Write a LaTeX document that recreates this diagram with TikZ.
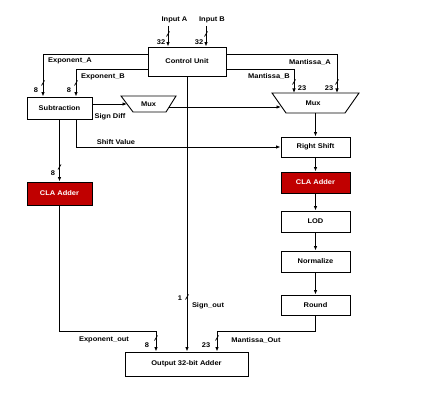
\documentclass[tikz,border=0pt]{standalone}
\usepackage{fontspec}
\setmainfont{Liberation Sans}[FakeStretch=1.1]
\usetikzlibrary{arrows.meta,calc}
\definecolor{clared}{RGB}{192,0,0}
\tikzset{
  lbl/.style={font=\fontsize{6.8}{7.8}\selectfont\bfseries, inner sep=0pt},
  blk/.style={lbl, draw, line width=0.9pt, fill=white, text=black},
  clablk/.style={lbl, draw=black, line width=0.9pt, fill=clared, text=white},
  wire/.style={line width=0.9pt},
  arr/.style={line width=0.9pt, -{Latex[length=4.5pt,width=3.5pt]}},
  bus/.pic={\draw[line width=0.7pt] (-1.5,2.5) -- (1.5,-2.5);}
}
\begin{document}
\begin{tikzpicture}[x=1pt,y=-1pt]
\useasboundingbox (0,0) rectangle (426,401);
% blocks
\node[blk, minimum width=78pt, minimum height=29pt] (cu) at (187,61.5) {Control Unit};
\node[blk, minimum width=65pt, minimum height=22pt] (sub) at (59.5,108) {Subtraction};
\node[clablk, minimum width=65pt, minimum height=23pt] (claL) at (59.5,193.5) {CLA Adder};
\node[blk, minimum width=69pt, minimum height=20pt] (rs) at (315.5,147) {Right Shift};
\node[clablk, minimum width=69pt, minimum height=21pt] (claR) at (315.5,182.5) {CLA Adder};
\node[blk, minimum width=69pt, minimum height=21pt] (lod) at (315.5,221.5) {LOD};
\node[blk, minimum width=69pt, minimum height=21pt] (norm) at (315.5,261.5) {Normalize};
\node[blk, minimum width=69pt, minimum height=20pt] (rnd) at (315.5,305) {Round};
\node[blk, minimum width=123pt, minimum height=24pt] (out) at (186.5,364) {Output 32-bit Adder};
% muxes
\draw[wire, fill=white] (121,96) -- (176,96) -- (166,112) -- (133,112) -- cycle;
\node[lbl] (muxS) at (148.5,104) {Mux};
\draw[wire, fill=white] (272,93) -- (359,93) -- (345,113) -- (286,113) -- cycle;
\node[lbl] (muxB) at (313,103) {Mux};
\coordinate (mSin) at (127,104);
\coordinate (mSout) at (169,107);
\coordinate (mBin) at (281,107);
\coordinate (mBout) at (315.5,113);
\coordinate (mBa) at (337,93);
\coordinate (mBb) at (294,93);
% inputs
\node[lbl] (tinA) at (174.5,20) {Input A};
\node[lbl] (tinB) at (212,20) {Input B};
\coordinate (inA) at (168,26);
\coordinate (inB) at (206,26);
\draw[arr] (inA) -- (inA |- cu.north);
\draw[arr] (inB) -- (inB |- cu.north);
\node[lbl] (n32a) at (161,42) {32};
\node[lbl] (n32b) at (199,42) {32};
% exponent lines
\draw[arr] ([yshift=7.5pt]cu.west) -| ([xshift=-16.5pt]sub.north);
\draw[arr] ([yshift=-7.5pt]cu.west) -| ([xshift=16.5pt]sub.north);
\node[lbl] (tea) at (70,61) {Exponent\_A};
\node[lbl] (teb) at (103,77) {Exponent\_B};
\node[lbl] (n8a) at (36,90) {8};
\node[lbl] (n8b) at (69,90) {8};
% mantissa lines
\draw[arr] ([yshift=7.5pt]cu.east) -| (mBa);
\draw[arr] ([yshift=-7.5pt]cu.east) -| (mBb);
\node[lbl] (tma) at (310,62) {Mantissa\_A};
\node[lbl] (tmb) at (269,76) {Mantissa\_B};
\node[lbl] (n23a) at (302,88) {23};
\node[lbl] (n23b) at (329,88) {23};
% subtraction outputs
\draw[arr] ([yshift=4pt]sub.east) -- (mSin);
\node[lbl] (tsd) at (110,117) {Sign Diff};
\draw[arr] (mSout) -- (mBin);
\draw[arr] ([xshift=16.5pt]sub.south) |- (rs.west);
\node[lbl] (tsv) at (116,142) {Shift Value};
\draw[arr] (sub.south) -- (claL.north);
\node[lbl] (n8c) at (53,173) {8};
% mantissa chain
\draw[arr] (mBout) -- (rs.north);
\draw[arr] (rs.south) -- (claR.north);
\draw[arr] (claR.south) -- (lod.north);
\draw[arr] (lod.south) -- (norm.north);
\draw[arr] (norm.south) -- (rnd.north);
% outputs
\coordinate (eo) at (156,331);
\coordinate (mo) at (217,331);
\draw[arr] (claL.south) |- (eo) -- (eo |- out.north);
\draw[arr] (rnd.south) |- (mo) -- (mo |- out.north);
\draw[arr] (cu.south) -- (cu.south |- out.north);
\node[lbl] (teo) at (104,340) {Exponent\_out};
\node[lbl] (n8d) at (147,345) {8};
\node[lbl] (tmo) at (256,340) {Mantissa\_Out};
\node[lbl] (n23c) at (206,345) {23};
\node[lbl] (n1) at (180,298) {1};
\node[lbl] (tso) at (208,306) {Sign\_out};
% bus marks
\foreach \p in {(168,34),(206,34),(43,83),(76,83),(294,82),(337,82),(59.5,167),(187,297),(156,338),(217,338)}
  \pic at \p {bus};
\end{tikzpicture}
\end{document}
